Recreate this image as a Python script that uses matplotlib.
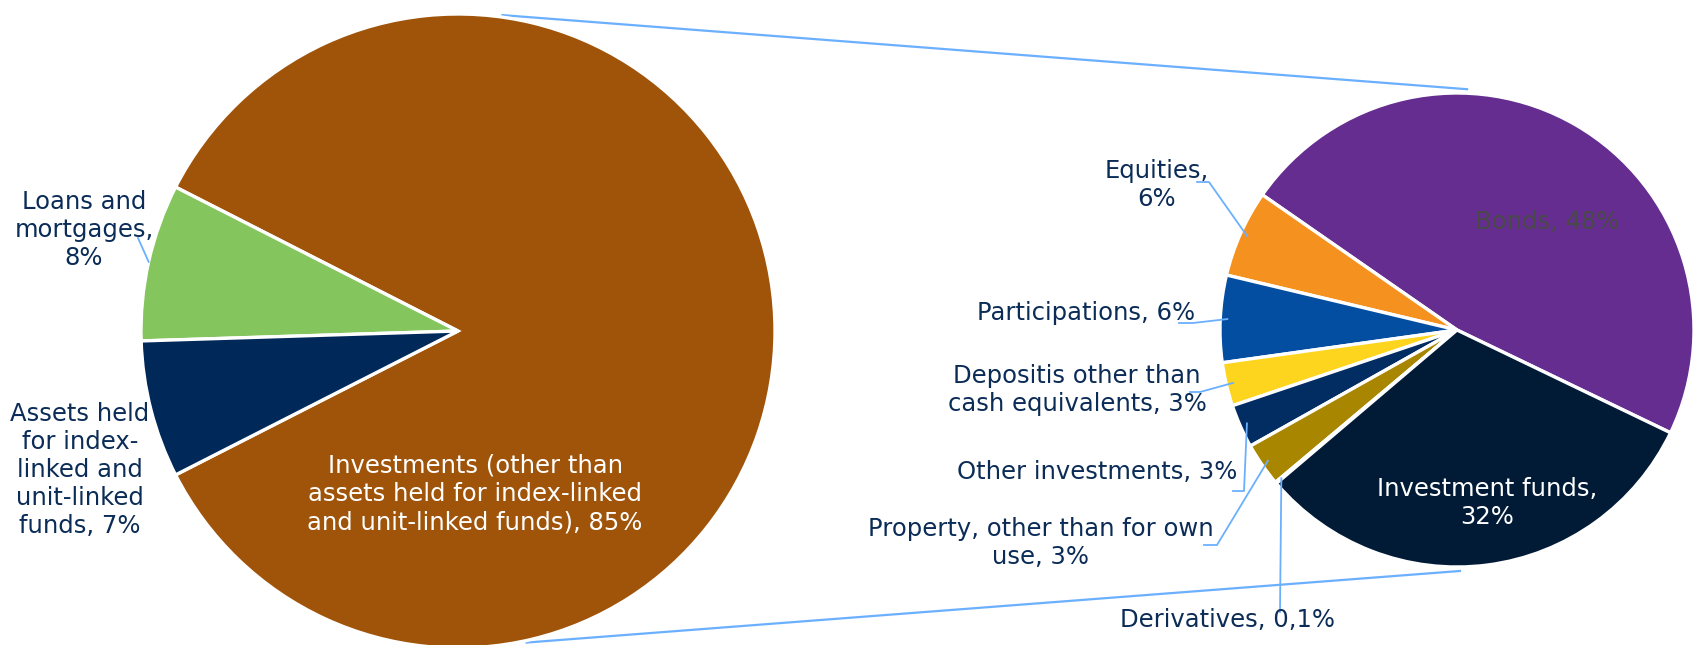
import numpy as np
import matplotlib
matplotlib.use("Agg")
import matplotlib.pyplot as plt

# Total assets split (left pie)
assets_labels = ["Investments (other than\nassets held for index-linked\nand unit-linked funds), 85%",
                 "Loans and\nmortgages,\n8%",
                 "Assets held\nfor index-\nlinked and\nunit-linked\nfunds, 7%"]
assets_values = [85, 8, 7]
assets_colors = ["#A0540A", "#84C55E", "#00295A"]

# Breakdown of investments (right pie)
inv_labels = ["Bonds, 48%", "Equities,\n6%", "Participations, 6%",
              "Depositis other than\ncash equivalents, 3%", "Other investments, 3%",
              "Property, other than for own\nuse, 3%", "Derivatives, 0,1%",
              "Investment funds,\n32%"]
inv_values = [48, 6, 6, 3, 3, 3, 0.1, 32]
inv_colors = ["#652D8F", "#F5911E", "#044EA2", "#FDD41E", "#012D62",
              "#A88600", "#7F7F7F", "#011B37"]

W, H = 1694, 645
TEXT = "#0B2C57"
LEADER = "#6BB0FF"
FS = 17.5
LS = 1.22

fig = plt.figure(figsize=(W / 100, H / 100), dpi=100)
ax = fig.add_axes([0, 0, 1, 1])


def up(y):
    # layout values below are measured from the top edge
    return H - y


left_c, left_r = (458, up(331)), 317
right_c, right_r = (1457, up(330)), 237
wedge_style = dict(edgecolor="white", linewidth=2.4)

lw, _ = ax.pie(assets_values, colors=assets_colors, startangle=207,
               center=left_c, radius=left_r, wedgeprops=wedge_style, frame=True)
rw, _ = ax.pie(inv_values, colors=inv_colors, startangle=-25.7,
               center=right_c, radius=right_r, wedgeprops=wedge_style, frame=True)
ax.set_xlim(0, W)
ax.set_ylim(0, H)
ax.set_aspect("equal")
ax.axis("off")


def on_circle(c, r, deg):
    a = np.deg2rad(deg)
    return c[0] + r * np.cos(a), c[1] + r * np.sin(a)


# connector lines between the two pies
for a_left, a_right in [(82, 87.6), (-77.6, -89.3)]:
    p1 = on_circle(left_c, left_r + 2, a_left)
    p2 = on_circle(right_c, right_r + 4, a_right)
    ax.plot([p1[0], p2[0]], [p1[1], p2[1]], color=LEADER, lw=1.6, zorder=0)


def mid_angle(w):
    return (w.theta1 + w.theta2) / 2


def leader(wedge, c, r, elbow, depth=0.97):
    end = on_circle(c, r * depth, mid_angle(wedge))
    xs = [p[0] for p in elbow] + [end[0]]
    ys = [up(p[1]) for p in elbow] + [end[1]]
    ax.plot(xs, ys, color=LEADER, lw=1.3, zorder=3)


# left pie labels
ax.text(475, up(494), assets_labels[0], color="white", fontsize=FS,
        ha="center", va="center", linespacing=LS)
ax.text(84, up(230), assets_labels[1], color=TEXT, fontsize=FS,
        ha="center", va="center", linespacing=LS)
ax.text(80, up(470), assets_labels[2], color=TEXT, fontsize=FS,
        ha="center", va="center", linespacing=LS)
leader(lw[1], left_c, left_r, [(138, 238)], depth=1.0)

# right pie labels: text position, leader elbow points
right_layout = [
    ((1547, 222), None),
    ((1157, 185), [(1197, 182), (1209, 182)]),
    ((1086, 313), [(1179, 323), (1193, 323)]),
    ((1077, 390), [(1190, 392), (1200, 392)]),
    ((1097, 472), [(1233, 491), (1244, 491)]),
    ((1041, 543), [(1204, 545), (1217, 545)]),
    ((1228, 620), [(1280, 612)]),
    ((1487, 503), None),
]
for i, (pos, elbow) in enumerate(right_layout):
    color = TEXT
    if i == 0:
        color = "#4A4A4A"
    elif i == 7:
        color = "white"
    ax.text(pos[0], up(pos[1]), inv_labels[i], color=color, fontsize=FS,
            ha="center", va="center", linespacing=LS, zorder=4)
    if elbow:
        leader(rw[i], right_c, right_r, elbow)

fig.savefig("out.png", dpi=100)
